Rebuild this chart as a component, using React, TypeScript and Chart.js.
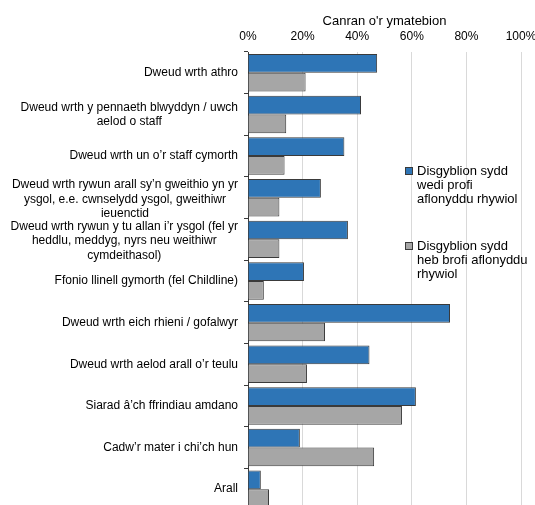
import { useEffect, useRef } from "react";
import { Chart, registerables } from "chart.js";

Chart.register(...registerables);

const FONT = '"Liberation Sans", Arial, sans-serif';

const categories: (string | string[])[] = [
  "Dweud wrth athro",
  ["Dweud wrth y pennaeth blwyddyn / uwch", "aelod o staff"],
  "Dweud wrth un o’r staff cymorth",
  ["Dweud wrth rywun arall sy’n gweithio yn yr", "ysgol, e.e. cwnselydd ysgol, gweithiwr", "ieuenctid"],
  ["Dweud wrth rywun y tu allan i’r ysgol (fel yr", "heddlu, meddyg, nyrs neu weithiwr", "cymdeithasol)"],
  "Ffonio llinell gymorth (fel Childline)",
  "Dweud wrth eich rhieni / gofalwyr",
  "Dweud wrth aelod arall o’r teulu",
  "Siarad â’ch ffrindiau amdano",
  "Cadw’r mater i chi’ch hun",
  "Arall",
];

const seriesNames: string[][] = [
  ["Disgyblion sydd", "wedi profi", "aflonyddu rhywiol"],
  ["Disgyblion sydd", "heb brofi aflonyddu", "rhywiol"],
];

const experienced = [47.3, 41.4, 35.3, 26.7, 36.6, 20.5, 74.0, 44.5, 61.5, 19.0, 4.7];
const notExperienced = [21.1, 14.0, 13.4, 11.5, 11.5, 5.8, 28.2, 21.6, 56.4, 46.2, 7.7];

const xTicks = [0, 20, 40, 60, 80, 100];
const axisTitle = "Canran o'r ymatebion";

const BLUE = "#2E75B6";
const GRAY = "#A6A6A6";
const BORDER = "#3a3a3a";

const yLabelPlugin = {
  id: "yLabelPlugin",
  afterDraw(chart: any) {
    const ctx = chart.ctx as CanvasRenderingContext2D;
    const ys = chart.scales.y;
    ctx.save();
    ctx.font = `12px ${FONT}`;
    ctx.fillStyle = "#000";
    ctx.textAlign = "center";
    ctx.textBaseline = "middle";
    const lh = 14.5;
    categories.forEach((lab, i) => {
      const lines = Array.isArray(lab) ? lab : [lab];
      const maxW = Math.max(...lines.map((l) => ctx.measureText(l).width));
      const cx = ys.right - 10 - maxW / 2;
      const cy = ys.getPixelForValue(i) + (lines.length > 2 ? 1.5 : 0);
      lines.forEach((l, j) => {
        ctx.fillText(l, cx, cy + (j - (lines.length - 1) / 2) * lh);
      });
    });
    ctx.restore();
  },
};

const legendPlugin = {
  id: "legendPlugin",
  afterDraw(chart: any) {
    const ctx = chart.ctx as CanvasRenderingContext2D;
    ctx.save();
    ctx.font = `13px ${FONT}`;
    ctx.textAlign = "left";
    ctx.textBaseline = "middle";
    const colors = [BLUE, GRAY];
    const starts = [171, 246];
    const lh = 14;
    seriesNames.forEach((lines, k) => {
      const y0 = starts[k];
      ctx.fillStyle = colors[k];
      ctx.fillRect(406, y0 - 3, 6, 6);
      ctx.strokeStyle = BORDER;
      ctx.lineWidth = 1;
      ctx.strokeRect(405.5, y0 - 3.5, 7, 7);
      ctx.fillStyle = "#000";
      lines.forEach((l, j) => ctx.fillText(l, 417, y0 + j * lh));
    });
    ctx.restore();
  },
};

export default function App() {
  const ref = useRef<HTMLCanvasElement | null>(null);

  useEffect(() => {
    if (!ref.current) return;
    const chart = new Chart(ref.current, {
      type: "bar",
      data: {
        labels: categories.map((c) => (Array.isArray(c) ? c.join(" ") : c)),
        datasets: [
          {
            label: seriesNames[0].join(" "),
            data: experienced,
            backgroundColor: BLUE,
            borderColor: BORDER,
            borderWidth: 1,
            categoryPercentage: 0.9,
            barPercentage: 1.0,
          },
          {
            label: seriesNames[1].join(" "),
            data: notExperienced,
            backgroundColor: GRAY,
            borderColor: BORDER,
            borderWidth: 1,
            categoryPercentage: 0.9,
            barPercentage: 1.0,
          },
        ],
      },
      options: {
        indexAxis: "y",
        responsive: false,
        animation: false,
        layout: { autoPadding: false, padding: { left: 0, right: 14, top: 0, bottom: 0 } },
        plugins: {
          legend: { display: false },
          tooltip: { enabled: false },
        },
        scales: {
          x: {
            position: "top",
            min: 0,
            max: 100,
            afterBuildTicks: (s: any) => {
              s.ticks = xTicks.map((v) => ({ value: v }));
            },
            ticks: {
              callback: (v: any) => `${v}%`,
              font: { size: 12, family: FONT },
              color: "#000",
              padding: 8,
              maxRotation: 0,
            },
            grid: { color: "#D9D9D9", drawTicks: false },
            border: { display: false },
            title: {
              display: true,
              text: axisTitle,
              font: { size: 13, family: FONT },
              color: "#000",
              padding: { top: 14, bottom: 0 },
            },
            afterFit: (s: any) => {
              s.height = 52;
              s.paddingLeft = 0;
              s.paddingRight = 0;
            },
          },
          y: {
            grid: {
              display: true,
              drawOnChartArea: false,
              tickLength: 4,
              color: BORDER,
              offset: true,
            },
            border: { display: true, color: BORDER },
            ticks: { display: false },
            afterFit: (s: any) => {
              s.width = 248;
              s.paddingTop = 0;
              s.paddingBottom = 0;
            },
          },
        },
      } as any,
      plugins: [yLabelPlugin, legendPlugin],
    });
    return () => chart.destroy();
  }, []);

  return (
    <div
      style={{
        position: "absolute",
        top: 0,
        left: 0,
        width: 535,
        height: 505,
        overflow: "hidden",
        background: "#fff",
      }}
    >
      <canvas ref={ref} width={535} height={510} style={{ width: 535, height: 510 }} />
    </div>
  );
}
